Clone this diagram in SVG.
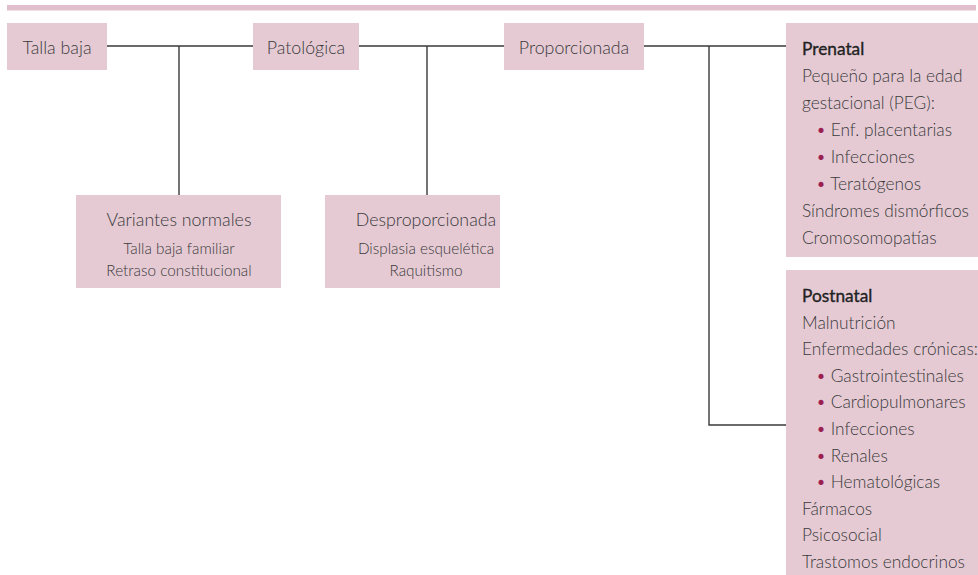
<svg xmlns="http://www.w3.org/2000/svg" width="978" height="575" viewBox="0 0 978 575">
<style>
.box{fill:#e5cad4}
.t{font-family:Lato,"Liberation Sans",sans-serif;font-weight:300;fill:#3a3a3a}
.big{font-size:17.8px}
.sm{font-size:15.3px}
.lst{font-size:17.3px}
.hd{font-weight:400;fill:#222;stroke:#222;stroke-width:0.35}
.b{fill:#9a2050}
.ln{stroke:#3a3a3a;stroke-width:1.4;fill:none}
</style>
<rect x="7" y="5" width="969" height="5.5" fill="#e2bfcc"/>
<g id="connectors">
<path class="ln" d="M107 46H253M179 46V195"/>
<path class="ln" d="M359 46H504M427 46V195"/>
<path class="ln" d="M644 46H786M709 46V425H786"/>
</g>
<g id="talla-baja">
<rect class="box" x="7" y="23" width="100" height="47"/>
<text class="t big" x="57" y="54" text-anchor="middle">Talla baja</text>
</g>
<g id="patologica">
<rect class="box" x="253" y="23" width="106" height="47"/>
<text class="t big" x="306" y="54" text-anchor="middle">Patológica</text>
</g>
<g id="proporcionada">
<rect class="box" x="504" y="23" width="140" height="47"/>
<text class="t big" x="574" y="54" text-anchor="middle">Proporcionada</text>
</g>
<g id="variantes">
<rect class="box" x="76" y="195" width="205" height="93"/>
<text class="t big" x="179" y="226" text-anchor="middle">Variantes normales</text>
<text class="t sm" x="179" y="254" text-anchor="middle">Talla baja familiar</text>
<text class="t sm" x="179" y="276" text-anchor="middle">Retraso constitucional</text>
</g>
<g id="desproporcionada">
<rect class="box" x="325" y="195" width="175" height="93"/>
<text class="t big" x="426" y="226" text-anchor="middle">Desproporcionada</text>
<text class="t sm" x="426" y="254" text-anchor="middle">Displasia esquelética</text>
<text class="t sm" x="426" y="276" text-anchor="middle">Raquitismo</text>
</g>
<g id="prenatal">
<rect class="box" x="786" y="23" width="192" height="234"/>
<text class="t lst hd" x="802" y="54.5">Prenatal</text>
<text class="t lst" x="802" y="81.5">Pequeño para la edad</text>
<text class="t lst" x="802" y="108.5">gestacional (PEG):</text>
<text class="t lst" x="816" y="135.5"><tspan class="b">•</tspan> Enf. placentarias</text>
<text class="t lst" x="816" y="162.5"><tspan class="b">•</tspan> Infecciones</text>
<text class="t lst" x="816" y="189.5"><tspan class="b">•</tspan> Teratógenos</text>
<text class="t lst" x="802" y="216.5">Síndromes dismórficos</text>
<text class="t lst" x="802" y="243.5">Cromosomopatías</text>
</g>
<g id="postnatal">
<rect class="box" x="786" y="270" width="192" height="305"/>
<text class="t lst hd" x="802" y="302">Postnatal</text>
<text class="t lst" x="802" y="328.6">Malnutrición</text>
<text class="t lst" x="802" y="355.2">Enfermedades crónicas:</text>
<text class="t lst" x="816" y="381.8"><tspan class="b">•</tspan> Gastrointestinales</text>
<text class="t lst" x="816" y="408.4"><tspan class="b">•</tspan> Cardiopulmonares</text>
<text class="t lst" x="816" y="435"><tspan class="b">•</tspan> Infecciones</text>
<text class="t lst" x="816" y="461.6"><tspan class="b">•</tspan> Renales</text>
<text class="t lst" x="816" y="488.2"><tspan class="b">•</tspan> Hematológicas</text>
<text class="t lst" x="802" y="514.8">Fármacos</text>
<text class="t lst" x="802" y="541.4">Psicosocial</text>
<text class="t lst" x="802" y="568">Trastomos endocrinos</text>
</g>
</svg>
